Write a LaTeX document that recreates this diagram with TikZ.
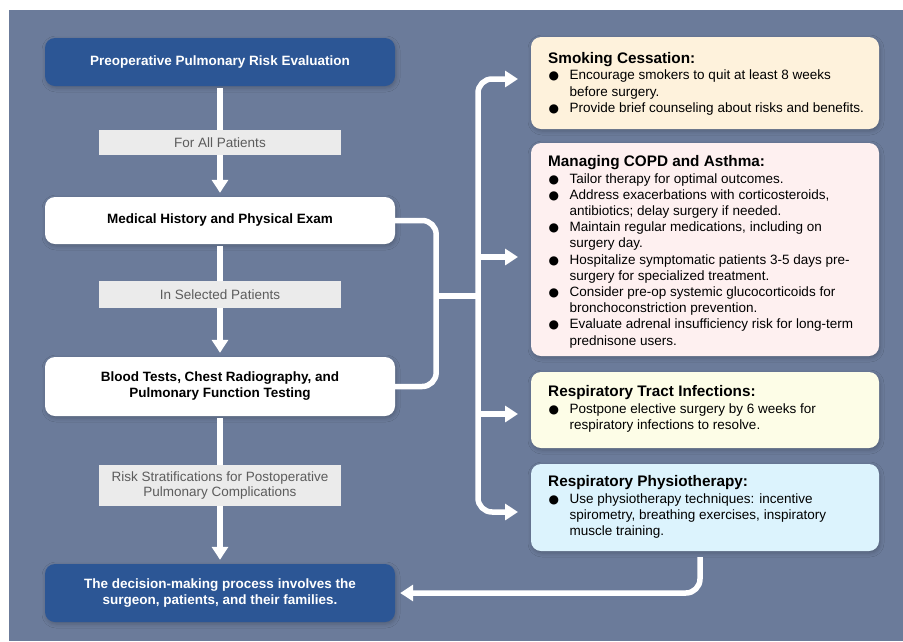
\documentclass[tikz,border=0pt]{standalone}
\usepackage{fontspec}
\setmainfont{Liberation Sans}
\newfontfamily\dejavu{DejaVu Sans}
\usetikzlibrary{arrows.meta,shadows.blur}

\definecolor{bgc}{HTML}{6B7B9A}
\definecolor{dblue}{HTML}{2C5695}
\definecolor{lgray}{HTML}{EBEBEB}
\definecolor{lgtext}{HTML}{5C5C5C}
\definecolor{peach}{HTML}{FEF2DC}
\definecolor{pinkish}{HTML}{FEF0F0}
\definecolor{cream}{HTML}{FDFDE7}
\definecolor{sky}{HTML}{DCF3FD}

\newcommand\bl{\makebox[21.5pt][l]{\hspace{0.5pt}{\dejavu\fontsize{12}{12}\selectfont ●}}}
\newcommand\ind{\hspace*{21.5pt}}
\newcommand\ttl{\bfseries\fontsize{15.3}{16.2}\selectfont}

\begin{document}
\begin{tikzpicture}[x=1pt,y=-1pt,
  shad/.style={blur shadow={shadow xshift=1pt, shadow yshift=-2pt, shadow blur radius=4pt, shadow opacity=22}},
  mainbox/.style={rounded corners=10pt, minimum width=350pt, inner sep=0pt, align=center,
     font=\bfseries\fontsize{13.5}{16}\selectfont, shad},
  darkbox/.style={mainbox, fill=dblue, text=white},
  whitebox/.style={mainbox, fill=white, text=black},
  lbl/.style={fill=lgray, text=lgtext, minimum width=242pt, inner sep=0pt, align=center,
     font=\fontsize{13.5}{16}\selectfont},
  sidebox/.style={rounded corners=10pt, minimum width=348pt, inner sep=0pt, shad},
  sidetext/.style={anchor=north west, inner sep=0pt, align=left, font=\fontsize{13.5}{16.2}\selectfont},
  conn/.style={draw=white, line width=5.5pt, rounded corners=14pt},
  arr/.style={conn, -{Triangle[width=16pt,length=13pt]}}
]
\fill[white] (0,0) rectangle (903,641);
\fill[bgc] (9,10) rectangle (903,641);
\useasboundingbox (0,0) rectangle (903,641);

% left column
\node[darkbox, minimum height=48pt] (eval) at (220,62) {Preoperative Pulmonary Risk Evaluation};
\node[whitebox, minimum height=47pt] (hist) at (220,220.5) {Medical History and Physical Exam};
\node[whitebox, minimum height=59pt] (tests) at (220,386.5) {Blood Tests, Chest Radiography, and\\Pulmonary Function Testing};
\node[darkbox, minimum height=58pt] (dec) at (220,593) {The decision-making process involves the\\surgeon, patients, and their families.};

\draw[arr, shorten <=2pt, shorten >=4pt] (eval) -- (hist);
\draw[arr, shorten <=2pt, shorten >=4pt] (hist) -- (tests);
\draw[arr, shorten <=2pt, shorten >=4pt] (tests) -- (dec);

\node[lbl, minimum height=25pt] (l1) at (220,142.5) {For All Patients};
\node[lbl, minimum height=27pt] (l2) at (220,294.5) {In Selected Patients};
\node[lbl, minimum height=41pt] (l3) at (220,485.5) {Risk Stratifications for Postoperative\\Pulmonary Complications};

% right column
\node[sidebox, fill=peach, minimum height=92pt] (smoke) at (705,83) {};
\node[sidebox, fill=pinkish, minimum height=213pt] (copd) at (705,249.5) {};
\node[sidebox, fill=cream, minimum height=76pt] (resp) at (705,410) {};
\node[sidebox, fill=sky, minimum height=87pt] (physio) at (705,507.5) {};

\node[sidetext] (smoketx) at (548,51.5) {\rule{0pt}{12pt}{\ttl Smoking Cessation:}\\
\bl Encourage smokers to quit at least 8 weeks\\
\ind before surgery.\\
\bl Provide brief counseling about risks and benefits.};

\node[sidetext] (copdtx) at (548,154.7) {\rule{0pt}{12pt}{\ttl Managing COPD and Asthma:}\\
\bl Tailor therapy for optimal outcomes.\\
\bl Address exacerbations with corticosteroids,\\
\ind antibiotics; delay surgery if needed.\\
\bl Maintain regular medications, including on\\
\ind surgery day.\\
\bl Hospitalize symptomatic patients 3-5 days pre-\\
\ind surgery for specialized treatment.\\
\bl Consider pre-op systemic glucocorticoids for\\
\ind bronchoconstriction prevention.\\
\bl Evaluate adrenal insufficiency risk for long-term\\
\ind prednisone users.};

\node[sidetext] (resptx) at (548,384.7) {\rule{0pt}{12pt}{\ttl Respiratory Tract Infections:}\\
\bl Postpone elective surgery by 6 weeks for\\
\ind respiratory infections to resolve.};

\node[sidetext] (physiotx) at (548,474.7) {\rule{0pt}{12pt}{\ttl Respiratory Physiotherapy:}\\
\bl Use physiotherapy techniques: incentive\\
\ind spirometry, breathing exercises, inspiratory\\
\ind muscle training.};

% connectors
\coordinate (brk) at (436,296);
\coordinate (trunk) at (478,296);
\coordinate (t2) at (478,257);
\coordinate (t3) at (478,414);
\coordinate (a1) at (518,79);
\coordinate (a2) at (518,257);
\coordinate (a3) at (518,414);
\coordinate (a4) at (518,512);
\coordinate (p0) at (700,557);

\draw[conn] (hist.east) -- ++(41,0) |- (tests.east);
\draw[conn] (brk) -- (trunk);
\draw[arr] (trunk) |- (a1);
\draw[arr] (trunk) |- (a4);
\draw[arr] (t2) -- (a2);
\draw[arr] (t3) -- (a3);
\draw[arr, shorten >=5pt] (p0) |- (dec.east);
\end{tikzpicture}
\end{document}
